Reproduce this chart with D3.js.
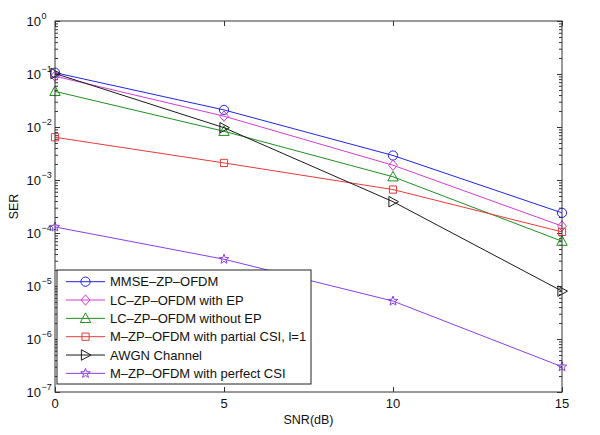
<!DOCTYPE html>
<html><head><meta charset="utf-8">
<script src="https://cdn.jsdelivr.net/npm/d3@7"></script>
<style>
html,body{margin:0;padding:0;background:#fff;}
text{font-family:"Liberation Sans",Arial,Helvetica,sans-serif;}
</style></head>
<body><svg id="c" width="600" height="435"></svg>
<script>
const snr = [0, 5, 10, 15];
const mmse = [0.106, 0.021, 0.0029, 2.4e-4];
const lcEP = [0.091, 0.016, 0.0019, 1.35e-4];
const lcNoEP = [0.047, 0.0083, 0.00115, 7.0e-5];
const mPartial = [0.0064, 0.0021, 6.6e-4, 1.05e-4];
const awgn = [0.102, 0.0097, 3.9e-4, 8.0e-6];
const mPerfect = [1.3e-4, 3.2e-5, 5.2e-6, 3.0e-7];
const seriesNames = ["MMSE–ZP–OFDM", "LC–ZP–OFDM with EP", "LC–ZP–OFDM without EP",
  "M–ZP–OFDM with partial CSI, l=1", "AWGN Channel", "M–ZP–OFDM with perfect CSI"];
const xTicks = [0, 5, 10, 15];
const yExps = [0, -1, -2, -3, -4, -5, -6, -7];

const series = [
  {name: seriesNames[0], values: mmse, color: "#2323e6", marker: "circle"},
  {name: seriesNames[1], values: lcEP, color: "#d23cd2", marker: "diamond"},
  {name: seriesNames[2], values: lcNoEP, color: "#1f8f1f", marker: "triangle"},
  {name: seriesNames[3], values: mPartial, color: "#e83a3a", marker: "square"},
  {name: seriesNames[4], values: awgn, color: "#1a1a1a", marker: "tright"},
  {name: seriesNames[5], values: mPerfect, color: "#8a3ee6", marker: "star"}
];

const L = 55, R = 562, T = 21, B = 392;
const svg = d3.select("#c");
const x = d3.scaleLinear().domain([0, 15]).range([L, R]);
const y = d3.scaleLog().domain([1e-7, 1]).range([B, T]);

function markerPath(type) {
  const p = d3.path();
  if (type === "circle") { p.arc(0, 0, 4.6, 0, 2 * Math.PI); p.closePath(); }
  else if (type === "square") { p.rect(-3.6, -3.6, 7.2, 7.2); }
  else if (type === "diamond") { const r = 5.2; p.moveTo(0, -r); p.lineTo(r*0.85, 0); p.lineTo(0, r); p.lineTo(-r*0.85, 0); p.closePath(); }
  else if (type === "triangle") { const r = 5.5; p.moveTo(0, -r); p.lineTo(r*0.95, r*0.75); p.lineTo(-r*0.95, r*0.75); p.closePath(); }
  else if (type === "tright") { const r = 5.5; p.moveTo(r, 0); p.lineTo(-r*0.75, r*0.95); p.lineTo(-r*0.75, -r*0.95); p.closePath(); }
  else if (type === "star") {
    const ro = 5, ri = 2.1;
    for (let i = 0; i < 10; i++) {
      const a = -Math.PI / 2 + i * Math.PI / 5;
      const rr = i % 2 === 0 ? ro : ri;
      if (i === 0) p.moveTo(rr * Math.cos(a), rr * Math.sin(a)); else p.lineTo(rr * Math.cos(a), rr * Math.sin(a));
    }
    p.closePath();
  }
  return p.toString();
}

// plot background
svg.append("rect").attr("x", L).attr("y", T).attr("width", R - L).attr("height", B - T).attr("fill", "#fff");

// minor ticks
const minors = [];
yExps.slice(1).forEach(e => { for (let k = 2; k <= 9; k++) minors.push(k * Math.pow(10, e)); });
const axisCol = "#333";
const gAx = svg.append("g");
gAx.append("g").attr("transform", `translate(${L},0)`)
  .call(d3.axisLeft(y).tickValues(minors).tickSize(-3).tickFormat(""))
  .call(g => { g.select(".domain").remove(); g.selectAll("line").attr("stroke", axisCol); });
gAx.append("g").attr("transform", `translate(${R},0)`)
  .call(d3.axisRight(y).tickValues(minors).tickSize(-3).tickFormat(""))
  .call(g => { g.select(".domain").remove(); g.selectAll("line").attr("stroke", axisCol); });
const majors = yExps.map(e => Math.pow(10, e));
gAx.append("g").attr("transform", `translate(${L},0)`)
  .call(d3.axisLeft(y).tickValues(majors).tickSize(-5).tickFormat(""))
  .call(g => { g.select(".domain").remove(); g.selectAll("line").attr("stroke", axisCol); });
gAx.append("g").attr("transform", `translate(${R},0)`)
  .call(d3.axisRight(y).tickValues(majors).tickSize(-5).tickFormat(""))
  .call(g => { g.select(".domain").remove(); g.selectAll("line").attr("stroke", axisCol); });
gAx.append("g").attr("transform", `translate(0,${B})`)
  .call(d3.axisBottom(x).tickValues(xTicks).tickSize(-5).tickFormat(""))
  .call(g => { g.select(".domain").remove(); g.selectAll("line").attr("stroke", axisCol); });
gAx.append("g").attr("transform", `translate(0,${T})`)
  .call(d3.axisTop(x).tickValues(xTicks).tickSize(-5).tickFormat(""))
  .call(g => { g.select(".domain").remove(); g.selectAll("line").attr("stroke", axisCol); });

// y labels
yExps.forEach(e => {
  const yy = y(Math.pow(10, e));
  const t = svg.append("text").attr("x", 41).attr("y", yy + 5).attr("text-anchor", "end")
    .attr("font-size", 13).attr("fill", "#111").text("10");
  svg.append("text").attr("x", 41.5).attr("y", yy - 2).attr("font-size", 9).attr("fill", "#111")
    .text(e === 0 ? "0" : "−" + (-e));
});
// x labels
xTicks.forEach(v => {
  svg.append("text").attr("x", x(v)).attr("y", 408).attr("text-anchor", "middle")
    .attr("font-size", 13).attr("fill", "#111").text(v);
});
svg.append("text").attr("x", (L + R) / 2).attr("y", 424).attr("text-anchor", "middle")
  .attr("font-size", 12.5).attr("fill", "#111").text("SNR(dB)");
svg.append("text").attr("transform", `translate(18,${(T + B) / 2}) rotate(-90)`).attr("text-anchor", "middle")
  .attr("font-size", 12.5).attr("fill", "#111").text("SER");

// lines
const line = d3.line().x((d, i) => x(snr[i])).y(d => y(d));
const gData = svg.append("g");
series.forEach(s => {
  gData.append("path").attr("d", line(s.values)).attr("fill", "none").attr("stroke", s.color).attr("stroke-width", 1);
  s.values.forEach((v, i) => {
    gData.append("path").attr("d", markerPath(s.marker)).attr("transform", `translate(${x(snr[i])},${y(v)})`)
      .attr("fill", "none").attr("stroke", s.color).attr("stroke-width", 1);
  });
});

// frame
svg.append("rect").attr("x", L).attr("y", T).attr("width", R - L).attr("height", B - T)
  .attr("fill", "none").attr("stroke", axisCol).attr("stroke-width", 1);

// legend
const lg = svg.append("g");
const lx = 57, ly = 270, lw = 254, lh = 114;
lg.append("rect").attr("x", lx).attr("y", ly).attr("width", lw).attr("height", lh)
  .attr("fill", "#fff").attr("stroke", "#222").attr("stroke-width", 1);
series.forEach((s, i) => {
  const yy = 281.7 + i * 18.33;
  lg.append("line").attr("x1", 66).attr("x2", 105).attr("y1", yy).attr("y2", yy).attr("stroke", s.color);
  lg.append("path").attr("d", markerPath(s.marker)).attr("transform", `translate(85.5,${yy})`)
    .attr("fill", "none").attr("stroke", s.color);
  lg.append("text").attr("x", 110).attr("y", yy + 4.5).attr("font-size", 13).attr("fill", "#111").text(s.name);
});
</script></body></html>
